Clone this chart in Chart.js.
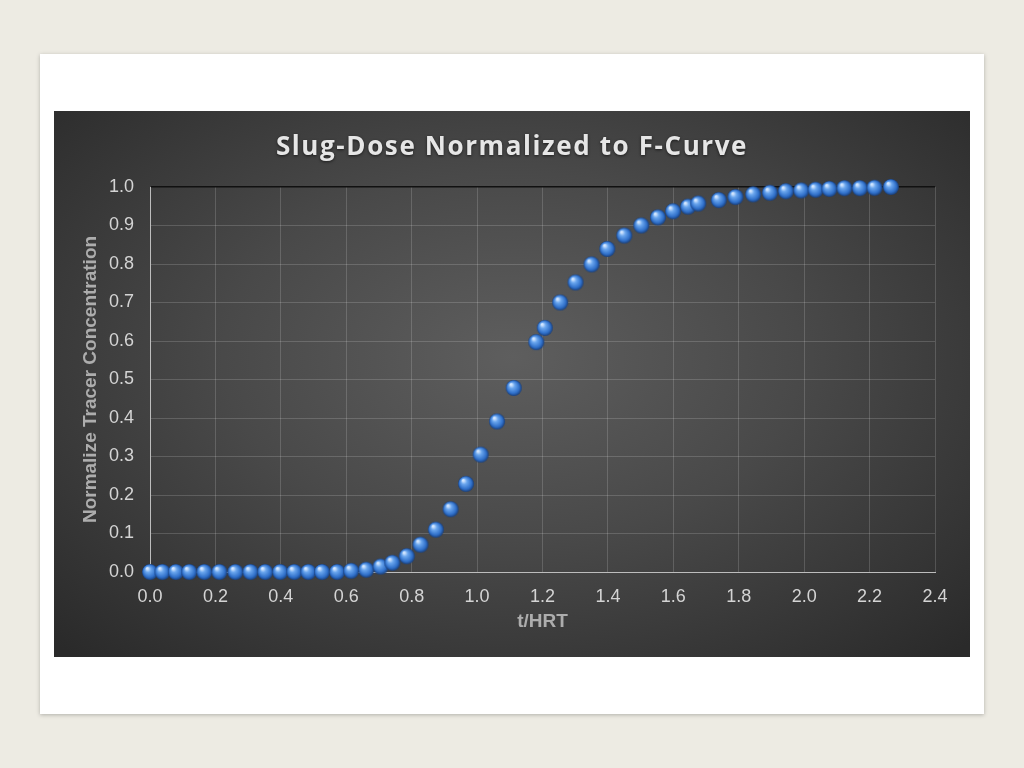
<!DOCTYPE html>
<html>
<head>
<meta charset="utf-8">
<script src="https://cdn.jsdelivr.net/npm/chart.js@4"></script>
<style>
  html, body { margin: 0; padding: 0; }
  body { width: 1024px; height: 768px; background: #edebe3; position: relative; overflow: hidden; }
  .card { position: absolute; left: 40px; top: 54px; width: 944px; height: 660px; background: #fff;
          box-shadow: 0 1px 4px rgba(0,0,0,0.25); }
  .panel { position: absolute; left: 54px; top: 111px; width: 916px; height: 546px;
           background: radial-gradient(ellipse 70% 75% at 50% 45%, #5e5e5e 0%, #494949 45%, #2a2a2a 100%); }
  canvas { display: block; }
</style>
</head>
<body>
<div class="card"></div>
<div class="panel"><canvas id="fCurve" width="916" height="546"></canvas></div>
<script>
// t/HRT values
const tHrt = [
  0.000, 0.038, 0.079, 0.120, 0.166, 0.212, 0.261, 0.307, 0.352, 0.398,
  0.441, 0.484, 0.526, 0.572, 0.615, 0.661, 0.705, 0.741, 0.785, 0.827,
  0.874, 0.919, 0.966, 1.011, 1.061, 1.112, 1.181, 1.207, 1.254, 1.301,
  1.350, 1.398, 1.450, 1.502, 1.553, 1.599, 1.645, 1.676, 1.739, 1.790,
  1.844, 1.895, 1.944, 1.991, 2.035, 2.077, 2.123, 2.170, 2.215, 2.265
];
// normalized tracer concentration (F)
const fValues = [
  0.000, 0.000, 0.000, 0.000, 0.000, 0.000, 0.000, 0.000, 0.000, 0.000,
  0.000, 0.000, 0.000, 0.000, 0.003, 0.006, 0.014, 0.024, 0.041, 0.071,
  0.110, 0.163, 0.229, 0.305, 0.391, 0.478, 0.597, 0.634, 0.700, 0.752,
  0.799, 0.839, 0.874, 0.900, 0.921, 0.937, 0.949, 0.957, 0.966, 0.974,
  0.981, 0.985, 0.989, 0.991, 0.993, 0.995, 0.997, 0.997, 0.998, 1.000
];

const titleText = 'Slug-Dose Normalized to F-Curve';
const xTitle = 't/HRT';
const yTitle = 'Normalize Tracer Concentration';

// blue sphere marker
function makeSphere(r) {
  const c = document.createElement('canvas');
  c.width = c.height = r * 2 + 2;
  const g = c.getContext('2d');
  const cx = r + 1, cy = r + 1;
  const grad = g.createRadialGradient(cx - r * 0.35, cy - r * 0.45, r * 0.1, cx, cy, r);
  grad.addColorStop(0, '#d6e8ff');
  grad.addColorStop(0.3, '#6aa6ee');
  grad.addColorStop(0.75, '#2f6fc9');
  grad.addColorStop(1, '#1a3f7a');
  g.beginPath();
  g.arc(cx, cy, r, 0, Math.PI * 2);
  g.fillStyle = grad;
  g.fill();
  return c;
}

const points = tHrt.map((t, i) => ({ x: t, y: fValues[i] }));

// letter spacing + soft shadow on the chart title, centred on the whole panel
const titleStyle = {
  id: 'titleStyle',
  beforeDraw(chart) {
    const tb = chart.titleBlock;
    if (!tb || tb._patched) return;
    const orig = tb.draw;
    tb.draw = function () {
      const ctx = this.ctx;
      ctx.save();
      ctx.translate(17.5, 0); // layout padding on the right shifts the box
      ctx.letterSpacing = '1.6px';
      ctx.shadowColor = 'rgba(0,0,0,0.6)';
      ctx.shadowBlur = 3;
      ctx.shadowOffsetY = 1;
      orig.call(this);
      ctx.restore();
    };
    tb._patched = true;
  }
};

const tickFont = { family: 'Liberation Sans, Arial, sans-serif', size: 18 };
const axisTitleFont = { family: 'Liberation Sans, Arial, sans-serif', size: 19, weight: 'bold' };

new Chart(document.getElementById('fCurve'), {
  type: 'scatter',
  data: {
    datasets: [{
      data: points,
      clip: false,
      pointStyle: makeSphere(8),
      pointRadius: 8,
      pointHoverRadius: 8
    }]
  },
  plugins: [titleStyle],
  options: {
    responsive: false,
    animation: false,
    layout: { padding: { left: 0, right: 35, top: 0, bottom: 0 } },
    plugins: {
      legend: { display: false },
      tooltip: { enabled: false },
      title: {
        display: true,
        text: titleText,
        color: '#e6e6e6',
        font: { family: 'Open Sans, sans-serif', size: 26, weight: 'bold' },
        padding: { top: 21, bottom: 23.8 }
      }
    },
    scales: {
      x: {
        type: 'linear',
        min: 0, max: 2.4,
        afterFit(s) { s.height = 85; },
        ticks: { stepSize: 0.2, color: '#d4d4d4', font: tickFont, padding: 14,
                 callback: v => v.toFixed(1) },
        grid: { color: 'rgba(255,255,255,0.16)', drawTicks: false },
        border: { color: '#bdbdbd', width: 1 },
        title: { display: true, text: xTitle, color: '#adadad', font: axisTitleFont,
                 padding: { top: 4, bottom: 23.5 } }
      },
      y: {
        min: 0, max: 1,
        afterFit(s) { s.width = 96; },
        ticks: { stepSize: 0.1, color: '#d4d4d4', font: tickFont, padding: 16,
                 callback: v => v.toFixed(1) },
        grid: { color: ctx => ctx.tick && ctx.tick.value === 1 ? '#111111' : 'rgba(255,255,255,0.16)',
                lineWidth: ctx => ctx.tick && ctx.tick.value === 1 ? 1.5 : 1,
                drawTicks: false },
        border: { color: '#bdbdbd', width: 1 },
        title: { display: true, text: yTitle, color: '#adadad', font: axisTitleFont,
                 padding: { top: 25, bottom: 0 } }
      }
    }
  }
});
</script>
</body>
</html>
